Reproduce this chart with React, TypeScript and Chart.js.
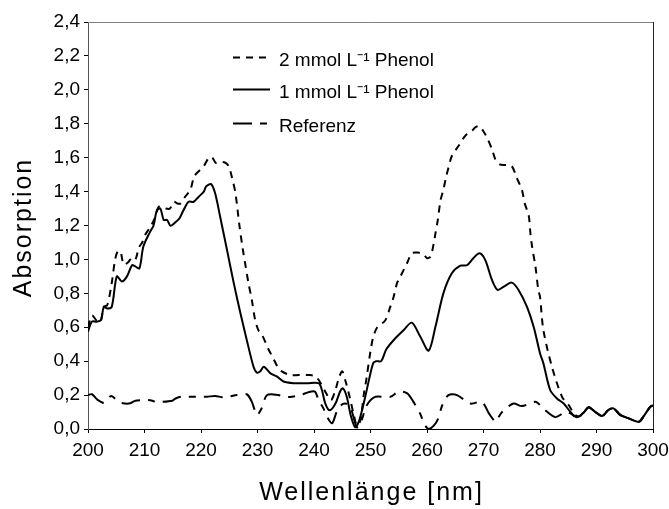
import React, { useEffect, useRef } from 'react';
import { Chart, registerables } from 'chart.js';

Chart.register(...registerables);

const FONT = '"Liberation Sans", Arial, Helvetica, sans-serif';

// 2 mmol/L Phenol (short dashes)
const wave2mmol = [
  200, 200.7, 201.5, 202.2, 202.8, 203.4, 204.2, 204.8, 205.3, 205.8, 206.3, 207.0, 207.8, 208.4,
  209.0, 209.6, 210.2, 211.0, 211.9, 212.5, 213.2, 213.8, 214.5, 215.2, 215.8, 216.4, 217.2, 218.1,
  218.8, 219.6, 220.5, 221.4, 222.0, 222.6, 223.4, 224.3, 224.9, 225.5, 226.1, 226.8, 227.4, 227.8,
  228.4, 229.0, 229.6, 230.2, 230.8, 232.0, 232.8, 233.5, 234.3, 235.8, 237.3, 239.3, 240.3, 241.0,
  242.0, 243.0, 243.7, 244.4, 245.0, 245.6, 246.3, 247.0, 247.6, 248.2, 248.8, 249.3, 250.0, 250.5,
  251.2, 252.6, 253.5, 254.1, 254.7, 255.3, 256.5, 257.3, 258.5, 259.4, 260.0, 260.6, 261.2, 261.5,
  261.9, 262.4, 262.9, 263.4, 263.8, 264.4, 265.6, 266.8, 268.0, 268.6, 269.3, 269.9, 270.6, 271.5,
  272.1, 272.9, 273.9, 275.0, 275.9, 276.8, 277.3, 278.0, 278.3, 278.6, 279.2, 279.7, 280.0, 280.6,
  282.1, 283.9, 285.1, 286.2, 287.0, 287.7, 288.6, 289.8, 291.0, 292.1, 293.0, 294.2, 295.7, 297.5,
  298.3, 299.5, 300,
];
const abs2mmol = [
  0.60, 0.67, 0.64, 0.63, 0.72, 0.73, 0.86, 1.00, 1.05, 1.04, 0.97, 0.98, 1.01, 1.00,
  1.07, 1.10, 1.15, 1.19, 1.25, 1.31, 1.31, 1.30, 1.30, 1.34, 1.33, 1.33, 1.37, 1.41,
  1.49, 1.52, 1.55, 1.60, 1.60, 1.57, 1.575, 1.57, 1.55, 1.48, 1.39, 1.20, 1.06, 0.98,
  0.86, 0.76, 0.64, 0.58, 0.555, 0.466, 0.417, 0.37, 0.34, 0.318, 0.318, 0.318, 0.31, 0.28,
  0.22, 0.17, 0.22, 0.30, 0.34, 0.28, 0.19, 0.09, 0.02, 0.05, 0.20, 0.30, 0.46, 0.545,
  0.60, 0.64, 0.72, 0.78, 0.86, 0.90, 0.98, 1.036, 1.04, 1.03, 1.007, 1.016, 1.095, 1.155,
  1.23, 1.35, 1.41, 1.49, 1.54, 1.61, 1.67, 1.73, 1.76, 1.78, 1.785, 1.76, 1.72, 1.65,
  1.59, 1.56, 1.557, 1.55, 1.48, 1.41, 1.33, 1.26, 1.155, 1.075, 0.957, 0.82, 0.78, 0.584,
  0.368, 0.19, 0.14, 0.083, 0.075, 0.096, 0.128, 0.10, 0.077, 0.112, 0.122, 0.083, 0.063, 0.043,
  0.073, 0.13, 0.14,
];

// 1 mmol/L Phenol (solid)
const wave1mmol = [
  200, 200.7, 201.6, 202.3, 202.8, 203.4, 204.2, 205.1, 206.0, 206.9, 207.8, 208.3, 209.1, 209.8,
  211.0, 211.6, 212.2, 212.8, 213.4, 214.0, 214.6, 215.5, 216.2, 216.9, 217.8, 218.7, 219.6, 220.5,
  220.9, 221.8, 222.5, 223.4, 224.6, 225.8, 227.0, 228.1, 229.3, 229.9, 230.5, 231.1, 232.3, 233.4,
  234.6, 236.4, 238.8, 240.8, 241.4, 242.0, 242.8, 243.8, 244.6, 245.1, 245.8, 246.5, 247.3, 248.0,
  249.0, 249.8, 250.5, 251.0, 251.9, 252.8, 254.4, 255.9, 257.3, 258.8, 260.3, 261.5, 262.9, 264.4,
  265.9, 267.1, 268.2, 269.3, 270.3, 271.5, 272.5, 273.6, 275.0, 276.2, 277.7, 278.9, 280.0, 280.6,
  281.8, 283.0, 284.2, 285.4, 286.5, 287.7, 288.6, 289.8, 291.0, 292.1, 293.0, 294.2, 295.7, 297.5,
  298.3, 299.5, 300,
];
const abs1mmol = [
  0.574, 0.633, 0.633, 0.643, 0.72, 0.71, 0.72, 0.90, 0.87, 0.90, 0.967, 0.96, 0.948, 1.076,
  1.164, 1.20, 1.29, 1.30, 1.233, 1.233, 1.198, 1.22, 1.243, 1.29, 1.34, 1.34, 1.37, 1.40,
  1.43, 1.444, 1.39, 1.25, 1.056, 0.86, 0.68, 0.525, 0.367, 0.332, 0.34, 0.367, 0.328, 0.31,
  0.28, 0.27, 0.27, 0.27, 0.23, 0.15, 0.11, 0.15, 0.22, 0.24, 0.19, 0.08, 0.01, 0.05,
  0.18, 0.30, 0.39, 0.40, 0.40, 0.47, 0.535, 0.584, 0.627, 0.545, 0.462, 0.604, 0.80, 0.918,
  0.963, 0.966, 1.007, 1.036, 0.997, 0.879, 0.82, 0.84, 0.863, 0.82, 0.72, 0.60, 0.447, 0.387,
  0.23, 0.18, 0.15, 0.10, 0.069, 0.096, 0.128, 0.10, 0.077, 0.112, 0.122, 0.083, 0.063, 0.043,
  0.073, 0.13, 0.14,
];

// Referenz (long-short dashes)
const waveRef = [
  200, 200.7, 201.6, 202.8, 204.1, 205.4, 206.5, 207.5, 208.4, 209.8, 211.0, 212.0, 213.1, 214.9,
  215.5, 216.5, 219.3, 221.0, 222.5, 224.0, 226.4, 228.1, 229.0, 229.9, 230.7, 231.7, 233.7, 234.6,
  236.1, 237.6, 239.3, 240.2, 240.8, 241.7, 242.3, 243.2, 244.0, 244.8, 245.5, 246.3, 247.0, 247.6,
  248.3, 249.2, 250.0, 250.9, 253.5, 255.0, 256.5, 257.6, 258.8, 259.5, 260.3, 261.2, 262.0, 262.7,
  263.8, 265.3, 267.7, 269.7, 271.0, 271.8, 272.1, 273.3, 275.3, 276.8, 279.2, 280.6, 282.7, 284.5,
  285.5, 286.5, 287.7, 288.6, 289.8, 291.0, 292.1, 293.0, 294.2, 295.7, 297.5, 298.3, 299.5, 300,
];
const absRef = [
  0.20, 0.205, 0.175, 0.155, 0.195, 0.16, 0.15, 0.152, 0.167, 0.17, 0.17, 0.16, 0.16, 0.167,
  0.18, 0.19, 0.19, 0.19, 0.195, 0.187, 0.20, 0.205, 0.16, 0.083, 0.12, 0.20, 0.20, 0.19,
  0.19, 0.20, 0.22, 0.22, 0.17, 0.12, 0.073, 0.034, 0.10, 0.14, 0.15, 0.14, 0.07, 0.01,
  0.04, 0.13, 0.17, 0.19, 0.19, 0.22, 0.21, 0.16, 0.09, 0.03, 0.0, 0.02, 0.063, 0.14,
  0.20, 0.20, 0.15, 0.16, 0.09, 0.053, 0.043, 0.10, 0.15, 0.135, 0.16, 0.12, 0.07, 0.10,
  0.09, 0.069, 0.096, 0.128, 0.10, 0.077, 0.112, 0.122, 0.083, 0.063, 0.043, 0.073, 0.13, 0.14,
];

const seriesLabels = ['2 mmol L\u207B\u00B9 Phenol', '1 mmol L\u207B\u00B9 Phenol', 'Referenz'];
const xTitle = 'Wellenlänge [nm]';
const yTitle = 'Absorption';

const toPoints = (xs: number[], ys: number[]) => xs.map((x, i) => ({ x, y: ys[i] }));

const framePlugin = {
  id: 'frameAndLegend',
  afterDraw(chart: any) {
    const { ctx, chartArea: a } = chart;
    ctx.save();
    ctx.lineWidth = 1;
    ctx.setLineDash([]);
    ctx.strokeStyle = '#808080';
    ctx.beginPath();
    ctx.moveTo(a.left, Math.round(a.top) + 0.5);
    ctx.lineTo(a.right, Math.round(a.top) + 0.5);
    ctx.stroke();
    ctx.strokeStyle = '#222';
    ctx.beginPath();
    ctx.moveTo(Math.round(a.right) + 0.5, a.top);
    ctx.lineTo(Math.round(a.right) + 0.5, a.bottom);
    ctx.stroke();

    // legend inside the plot area
    const x0 = a.left + 145;
    const x1 = x0 + 37;
    const tx = x0 + 46;
    const rows = [35.5, 67.5, 101.5];
    ctx.font = `19px ${FONT}`;
    ctx.textBaseline = 'middle';
    ctx.textAlign = 'left';
    chart.data.datasets.forEach((ds: any, i: number) => {
      const y = a.top + rows[i];
      ctx.strokeStyle = '#000';
      ctx.lineWidth = ds.borderWidth;
      ctx.setLineDash(ds.borderDash || []);
      ctx.beginPath();
      ctx.moveTo(x0, y);
      ctx.lineTo(x1, y);
      ctx.stroke();
      ctx.setLineDash([]);
      ctx.fillStyle = '#000';
      ctx.fillText(ds.label, tx, y + 3);
    });

    // axis titles (slightly letter-spaced, as in the original)
    ctx.font = `25px ${FONT}`;
    try {
      (ctx as any).letterSpacing = '2px';
    } catch (e) {}
    ctx.fillStyle = '#000';
    ctx.textAlign = 'center';
    ctx.textBaseline = 'middle';
    ctx.fillText(xTitle, (a.left + a.right) / 2 + 1, a.bottom + 64);
    ctx.translate(a.left - 64, (a.top + a.bottom) / 2 + 3);
    ctx.rotate(-Math.PI / 2);
    ctx.fillText(yTitle, 1, 0);
    try {
      (ctx as any).letterSpacing = '0px';
    } catch (e) {}
    ctx.restore();
  },
};

export default function App() {
  const ref = useRef<HTMLCanvasElement | null>(null);

  useEffect(() => {
    document.body.style.margin = '0';
    if (!ref.current) return;
    const chart = new Chart(ref.current, {
      type: 'line',
      data: {
        datasets: [
          {
            label: seriesLabels[0],
            data: toPoints(wave2mmol, abs2mmol),
            borderColor: '#000',
            borderWidth: 2,
            borderDash: [7, 6],
            pointRadius: 0,
            tension: 0.3,
            fill: false,
          },
          {
            label: seriesLabels[1],
            data: toPoints(wave1mmol, abs1mmol),
            borderColor: '#000',
            borderWidth: 2,
            borderDash: [],
            pointRadius: 0,
            tension: 0.3,
            fill: false,
          },
          {
            label: seriesLabels[2],
            data: toPoints(waveRef, absRef),
            borderColor: '#000',
            borderWidth: 2,
            borderDash: [19, 8, 7, 8],
            pointRadius: 0,
            tension: 0.3,
            fill: false,
          },
        ],
      },
      options: {
        responsive: false,
        animation: false,
        devicePixelRatio: 1,
        layout: { padding: { top: 22, right: 16, left: 0, bottom: 0 } },
        plugins: {
          legend: { display: false },
          tooltip: { enabled: false },
        },
        scales: {
          x: {
            type: 'linear',
            min: 200,
            max: 300,
            ticks: {
              stepSize: 10,
              color: '#000',
              font: { family: FONT, size: 19 },
              padding: 6,
              maxRotation: 0,
              callback: (v: any) => String(Math.round(Number(v))),
            },
            grid: { drawOnChartArea: false, drawTicks: true, tickLength: 4, color: '#000' },
            border: { display: true, color: '#000', width: 1 },
            title: { display: false, text: xTitle },
            afterFit: (s: any) => {
              s.height = 80;
              s.paddingLeft = 0;
              s.paddingRight = 0;
            },
          },
          y: {
            type: 'linear',
            min: 0,
            max: 2.4,
            ticks: {
              stepSize: 0.2,
              color: '#000',
              font: { family: FONT, size: 19 },
              padding: 4,
              callback: (v: any) => Number(v).toFixed(1).replace('.', ','),
            },
            grid: { drawOnChartArea: false, drawTicks: true, tickLength: 4, color: '#000' },
            border: { display: true, color: '#555', width: 1 },
            title: { display: false, text: yTitle },
            afterFit: (s: any) => {
              s.width = 88;
              s.paddingTop = 0;
              s.paddingBottom = 0;
            },
          },
        },
      },
      plugins: [framePlugin],
    });
    return () => chart.destroy();
  }, []);

  return (
    <div style={{ width: 669, height: 509, background: '#fff' }}>
      <canvas ref={ref} width={669} height={509} style={{ display: 'block', width: 669, height: 509 }} />
    </div>
  );
}
